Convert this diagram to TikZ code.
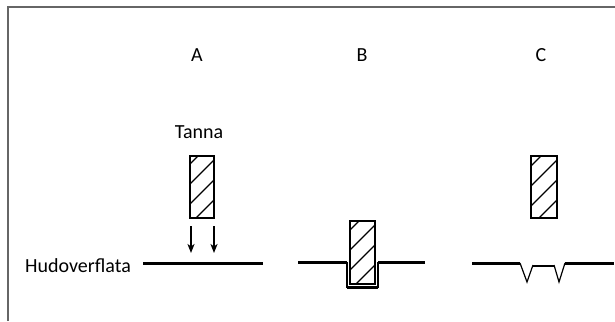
\documentclass[tikz,border=0pt]{standalone}
\usepackage{fontspec}
\setmainfont{Carlito}
\usetikzlibrary{arrows.meta}
\begin{document}
\begin{tikzpicture}[x=1pt,y=-1pt,
  lbl/.style={font=\fontsize{20}{24}\selectfont, inner sep=0pt},
  surface/.style={line width=3pt},
  tbox/.style={draw, line width=1.2pt},
  hatch/.style={line width=1.2pt},
  arr/.style={-{Stealth[length=9pt,width=7pt,inset=2.5pt]}, line width=1.4pt}]
\useasboundingbox (0,0) rectangle (615,321);
% frame
\draw[gray!80!black, line width=1.6pt] (8,321) -- (8,7) -- (615,7);
% labels
\node[lbl, anchor=base] (lA) at (197,62) {A};
\node[lbl, anchor=base] (lB) at (362,62) {B};
\node[lbl, anchor=base] (lC) at (541,62) {C};
\node[lbl, anchor=base] (tanna) at (199,138) {Tanna};
\node[lbl, anchor=base west] (hud) at (25,272) {Hudoverflata};
% A
\begin{scope}
\clip (190,156) rectangle (214,218);
\foreach \c in {140,160,180,200,220,240} {\draw[hatch] (190,\c+24) -- (214,\c);}
\end{scope}
\node[tbox, minimum width=24pt, minimum height=62pt, inner sep=0pt] (boxA) at (202,187) {};
\coordinate (a1s) at (191,226); \coordinate (a1e) at (191,253);
\coordinate (a2s) at (214,226); \coordinate (a2e) at (214,253);
\draw[arr] (a1s) -- (a1e);
\draw[arr] (a2s) -- (a2e);
\coordinate (sA1) at (143,263); \coordinate (sA2) at (263,263);
\draw[surface] (sA1) -- (sA2);
% B
\begin{scope}
\clip (350,221) rectangle (375,284);
\foreach \c in {205,225,245,265,285,305} {\draw[hatch] (350,\c+25) -- (375,\c);}
\end{scope}
\node[tbox, minimum width=25pt, minimum height=63pt, inner sep=0pt] (boxB) at (362.5,252.5) {};
\coordinate (sB1) at (298,262); \coordinate (sB2) at (347,262);
\coordinate (sB3) at (378,262); \coordinate (sB4) at (425,262);
\draw[surface] (sB1) -- (sB2);
\draw[surface] (sB3) -- (sB4);
\draw[line width=1.2pt] (sB2) -- (347,287) -- (378,287) -- (sB3);
\draw[line width=2.4pt] (347,287.5) -- (378,287.5);
% C
\begin{scope}
\clip (531,156) rectangle (557,218);
\foreach \c in {140,160,180,200,220,240} {\draw[hatch] (531,\c+26) -- (557,\c);}
\end{scope}
\node[tbox, minimum width=26pt, minimum height=62pt, inner sep=0pt] (boxC) at (544,187) {};
\coordinate (sC1) at (472,263); \coordinate (sC2) at (520,263);
\coordinate (sC3) at (565,263); \coordinate (sC4) at (614,263);
\draw[surface] (sC1) -- (sC2);
\draw[surface] (sC3) -- (sC4);
\draw[line width=1.2pt] (sC2) -- (527,282) -- (533,265);
\draw[line width=1.2pt] (554,265) -- (559,282) -- (sC3);
\draw[line width=2.6pt] (533,266) -- (554,266);
\end{tikzpicture}
\end{document}
